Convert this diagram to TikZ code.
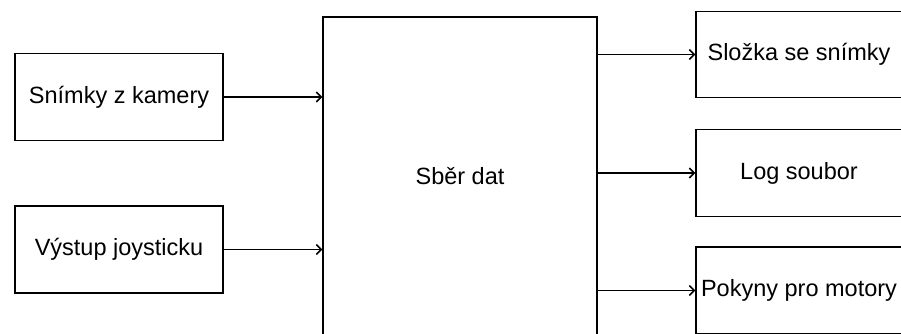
\documentclass[tikz,border=0pt]{standalone}
\usepackage{fontspec}
\setmainfont{Liberation Sans}
\usetikzlibrary{arrows.meta}

\begin{document}
\begin{tikzpicture}[x=1pt,y=-1pt,font=\fontsize{23.5}{28}\selectfont,
    block/.style={draw,line width=1.3pt,inner sep=0pt,minimum width=208pt,minimum height=87pt},
    flow/.style={line width=1.5pt,-{Straight Barb[length=5pt,width=10pt]}}]
    % Frame (the right column and the bottom run off the edge)
    \clip (0,0) rectangle (901,334);
    % Inputs
    \node[block] (cam) at (119,97) {Snímky z kamery};
    \node[block] (joy) at (119,249.5) {Výstup joysticku};
    % Collector
    \node[block,minimum width=274pt,minimum height=319pt] (sber) at (460,176.5) {Sběr dat};
    % Outputs
    \node[block,minimum width=206pt,minimum height=86pt] (frames) at (799,54.5) {Složka se snímky};
    \node[block,minimum width=206pt] (log) at (799,173) {Log soubor};
    \node[block,minimum width=206pt] (motors) at (799,290.5) {Pokyny pro motory};
    % Arrows in
    \draw[flow] (cam.east) -- (cam.east -| sber.west);
    \draw[flow] (joy.east) -- (joy.east -| sber.west);
    % Arrows out
    \draw[flow] (sber.east |- frames.west) -- (frames.west);
    \draw[flow] (sber.east |- log.west) -- (log.west);
    \draw[flow] (sber.east |- motors.west) -- (motors.west);
\end{tikzpicture}
\end{document}
